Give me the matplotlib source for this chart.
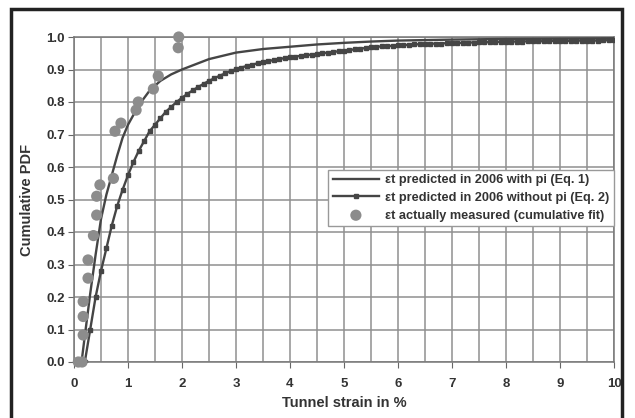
import numpy as np
import matplotlib
matplotlib.use("Agg")
import matplotlib.pyplot as plt
from matplotlib.patches import Rectangle

plt.rcParams['font.family'] = ['Liberation Sans', 'DejaVu Sans']
plt.rcParams['font.weight'] = 'bold'

# eps_t predicted with pi (Eq. 1), thin line
x_eq1 = [0.14, 0.2, 0.3, 0.4, 0.5, 0.6, 0.7, 0.8, 0.9, 1.0, 1.2, 1.4, 1.6, 1.8, 2.0,
         2.5, 3.0, 3.5, 4.0, 4.5, 5.0, 5.5, 6.0, 7.0, 8.0, 9.0, 10.0]
y_eq1 = [0.0, 0.08, 0.21, 0.33, 0.44, 0.515, 0.575, 0.635, 0.69, 0.73, 0.79, 0.835, 0.865, 0.885, 0.90,
         0.932, 0.952, 0.963, 0.97, 0.977, 0.982, 0.986, 0.989, 0.992, 0.994, 0.995, 0.996]

# eps_t predicted without pi (Eq. 2), line with small markers every 0.1 %
x_eq2 = [round(0.2 + 0.1 * i, 1) for i in range(99)]
y_eq2 = [0.0, 0.10, 0.20, 0.28, 0.35, 0.42, 0.48, 0.53, 0.575, 0.615,
         0.65, 0.68, 0.71, 0.73, 0.75, 0.77, 0.785, 0.80, 0.813, 0.825,
         0.836, 0.846, 0.856, 0.865, 0.873, 0.881, 0.888, 0.895, 0.901, 0.906,
         0.911, 0.915, 0.919, 0.923, 0.926, 0.929, 0.932, 0.935, 0.938, 0.940,
         0.942, 0.944, 0.946, 0.948, 0.950, 0.952, 0.954, 0.956, 0.958, 0.960,
         0.962, 0.964, 0.966, 0.968, 0.970, 0.971, 0.972, 0.973, 0.974, 0.975,
         0.976, 0.977, 0.978, 0.978, 0.979, 0.980, 0.980, 0.981, 0.981, 0.982,
         0.982, 0.983, 0.983, 0.984, 0.984, 0.984, 0.985, 0.985, 0.985, 0.986,
         0.986, 0.986, 0.987, 0.987, 0.987, 0.987, 0.988, 0.988, 0.988, 0.988,
         0.988, 0.989, 0.989, 0.989, 0.989, 0.989, 0.990, 0.990, 0.990]

# eps_t actually measured (cumulative fit)
x_meas = [0.08, 0.15, 0.17, 0.17, 0.17, 0.26, 0.26, 0.36, 0.42, 0.42, 0.48, 0.73,
          0.76, 0.87, 1.15, 1.19, 1.47, 1.56, 1.93, 1.94]
y_meas = [0.0, 0.0, 0.083, 0.14, 0.186, 0.258, 0.314, 0.389, 0.452, 0.51, 0.545, 0.565,
          0.71, 0.735, 0.775, 0.80, 0.84, 0.88, 0.967, 1.0]

x_ticks = list(range(0, 11))
y_ticks = [0.0, 0.1, 0.2, 0.3, 0.4, 0.5, 0.6, 0.7, 0.8, 0.9, 1.0]
x_grid = [0.5 * i for i in range(21)]

labels = ['εt predicted in 2006 with pi (Eq. 1)',
          'εt predicted in 2006 without pi (Eq. 2)',
          'εt actually measured (cumulative fit)']

fig = plt.figure(figsize=(6.35, 4.18), dpi=100)
ax = fig.add_axes([74 / 635, 1 - 362 / 418, 540 / 635, 325 / 418])

ax.plot(x_eq1, y_eq1, color='#454545', lw=1.7, label=labels[0], zorder=3)
ax.plot(x_eq2, y_eq2, color='#454545', lw=1.7, marker='s', ms=3.3, label=labels[1], zorder=3)
ax.scatter(x_meas, y_meas, s=65, color='#8c8c8c', edgecolors='none', label=labels[2],
           zorder=4, clip_on=False)

ax.set_xlim(0, 10)
ax.set_ylim(0, 1.0)
ax.set_xticks(x_ticks)
ax.set_xticks(x_grid, minor=True)
ax.set_yticks(y_ticks)
ax.set_yticklabels(['%.1f' % v for v in y_ticks])
ax.grid(which='both', color='#8f8f8f', lw=1.1)
ax.set_axisbelow(True)
for s in ax.spines.values():
    s.set_color('#777777')
    s.set_linewidth(1.1)
ax.tick_params(which='major', direction='out', length=4.5, color='#666666',
               labelsize=9.5, labelcolor='#333333')
ax.tick_params(axis='x', pad=7)
ax.tick_params(axis='y', pad=2)
ax.tick_params(which='minor', length=0)
ax.set_xlabel('Tunnel strain in %', fontsize=10.5, fontweight='bold', labelpad=4,
              color='#333333')
ax.set_ylabel('Cumulative PDF', fontsize=10.5, fontweight='bold', labelpad=9,
              color='#333333')

leg = ax.legend(loc='upper right', bbox_to_anchor=(1.0, 0.592),
                prop={'size': 9.2, 'weight': 'bold'},
                frameon=True, fancybox=False, framealpha=1, edgecolor='#999999',
                handlelength=3.6, handletextpad=0.5, borderpad=0.35, labelspacing=0.45,
                borderaxespad=0)
leg.get_frame().set_linewidth(1.0)
for t in leg.get_texts():
    t.set_color('#333333')

# outer frame of the figure panel
fig.patches.append(Rectangle((11 / 635, -0.05), 611 / 635, 1.05 - 9 / 418,
                             transform=fig.transFigure, fill=False,
                             edgecolor='#222222', lw=2.5))

plt.savefig('out.png', dpi=100)
